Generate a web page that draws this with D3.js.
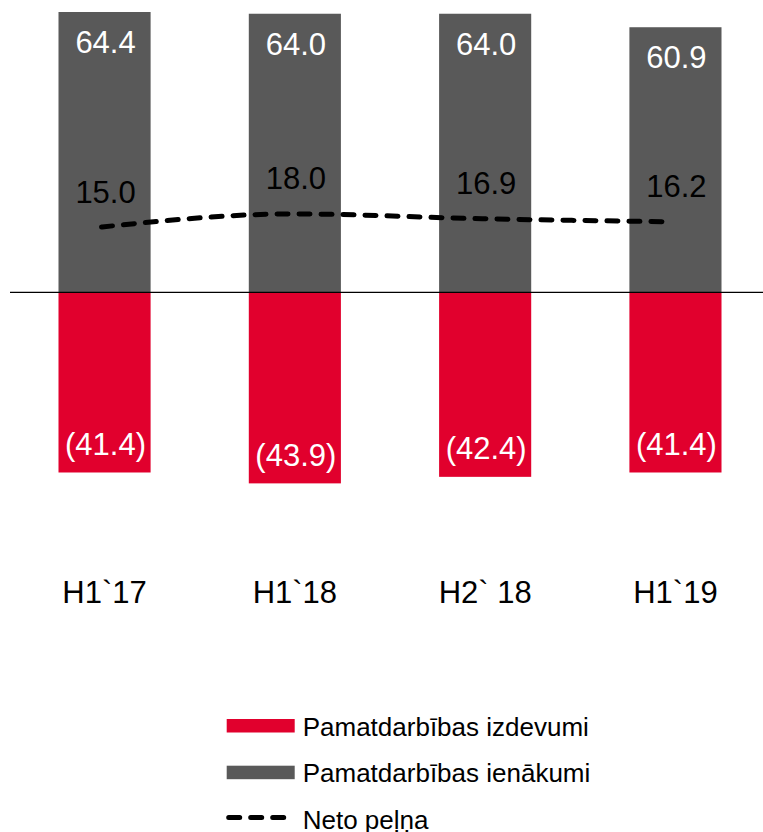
<!DOCTYPE html>
<html>
<head>
<meta charset="utf-8">
<script src="https://cdn.jsdelivr.net/npm/d3@7"></script>
<style>
  body { margin: 0; background: #fff; }
  text { font-family: "Liberation Sans", Arial, sans-serif; }
</style>
</head>
<body>
<div id="chart"></div>
<script>
// chart data
var periods = ["H1`17", "H1`18", "H2` 18", "H1`19"];
var income = [64.4, 64.0, 64.0, 60.9];
var expenses = [-41.4, -43.9, -42.4, -41.4];
var netProfit = [15.0, 18.0, 16.9, 16.2];
var seriesNames = ["Pamatdarbības izdevumi", "Pamatdarbības ienākumi", "Neto peļņa"];

var svgWidth = 763;
var svgHeight = 832;

var redColor = "#e1002d";
var grayColor = "#595959";

var svg = d3.select("#chart")
  .append("svg")
  .attr("width", svgWidth)
  .attr("height", svgHeight);

// scales
var xBandScale = d3.scaleBand()
  .domain(periods)
  .range([9.4, 770.6])
  .paddingInner(0.516)
  .paddingOuter(0.258);

var yLinearScale = d3.scaleLinear()
  .domain([0, 64.4])
  .range([292.3, 12]);

var rows = periods.map(function(p, i) {
  return { period: p, income: income[i], expenses: expenses[i], net: netProfit[i] };
});

function fmt(v) {
  return v < 0 ? "(" + d3.format(".1f")(-v) + ")" : d3.format(".1f")(v);
}

// income bars (gray)
svg.append("g").selectAll("rect")
  .data(rows)
  .enter()
  .append("rect")
  .attr("x", d => xBandScale(d.period))
  .attr("y", d => yLinearScale(d.income))
  .attr("width", xBandScale.bandwidth())
  .attr("height", d => yLinearScale(0) - yLinearScale(d.income))
  .attr("fill", grayColor);

// expense bars (red)
svg.append("g").selectAll("rect")
  .data(rows)
  .enter()
  .append("rect")
  .attr("x", d => xBandScale(d.period))
  .attr("y", yLinearScale(0))
  .attr("width", xBandScale.bandwidth())
  .attr("height", d => yLinearScale(d.expenses) - yLinearScale(0))
  .attr("fill", redColor);

// zero line
svg.append("line")
  .attr("x1", 10)
  .attr("x2", svgWidth)
  .attr("y1", yLinearScale(0))
  .attr("y2", yLinearScale(0))
  .attr("stroke", "#000")
  .attr("stroke-width", 1.2);

// net profit line
var lineGen = d3.line()
  .x(d => xBandScale(d.period) + xBandScale.bandwidth() / 2 - 3)
  .y(d => yLinearScale(d.net))
  .curve(d3.curveMonotoneX);

svg.append("path")
  .datum(rows)
  .attr("d", lineGen)
  .attr("fill", "none")
  .attr("stroke", "#000")
  .attr("stroke-width", 5)
  .attr("stroke-linecap", "round")
  .attr("stroke-dasharray", "11,11");

// value labels
var labels = svg.append("g")
  .style("font-size", "31px")
  .attr("text-anchor", "middle");

labels.selectAll(".inc")
  .data(rows)
  .enter()
  .append("text")
  .attr("class", "inc")
  .attr("x", d => xBandScale(d.period) + xBandScale.bandwidth() / 2 + 1)
  .attr("y", d => yLinearScale(d.income) + 41)
  .attr("fill", "#fff")
  .text(d => fmt(d.income));

labels.selectAll(".net")
  .data(rows)
  .enter()
  .append("text")
  .attr("class", "net")
  .attr("x", d => xBandScale(d.period) + xBandScale.bandwidth() / 2 + 1)
  .attr("y", d => yLinearScale(d.net) - 24.5)
  .attr("fill", "#000")
  .text(d => fmt(d.net));

labels.selectAll(".exp")
  .data(rows)
  .enter()
  .append("text")
  .attr("class", "exp")
  .attr("x", d => xBandScale(d.period) + xBandScale.bandwidth() / 2 + 1)
  .attr("y", d => yLinearScale(d.expenses) - 17.5)
  .attr("fill", "#fff")
  .text(d => fmt(d.expenses));

// category labels
var bottomAxis = d3.axisBottom(xBandScale).tickSize(0).tickPadding(0);
var axisG = svg.append("g")
  .attr("transform", "translate(0, 580)")
  .call(bottomAxis);
axisG.select(".domain").remove();
axisG.selectAll("text")
  .attr("dy", null)
  .attr("y", 22.7)
  .style("font-size", "31px")
  .style("font-family", "'Liberation Sans', Arial, sans-serif")
  .attr("fill", "#000");

// legend
var legend = svg.append("g")
  .attr("transform", "translate(226.7, 719)");

legend.append("rect")
  .attr("x", 0).attr("y", 0)
  .attr("width", 68).attr("height", 13.5)
  .attr("fill", redColor);

legend.append("rect")
  .attr("x", 0).attr("y", 46.7)
  .attr("width", 68).attr("height", 13.5)
  .attr("fill", grayColor);

legend.append("line")
  .attr("x1", 2).attr("x2", 62)
  .attr("y1", 98.5).attr("y2", 98.5)
  .attr("stroke", "#000")
  .attr("stroke-width", 5)
  .attr("stroke-linecap", "round")
  .attr("stroke-dasharray", "11,11");

legend.selectAll("text")
  .data(seriesNames)
  .enter()
  .append("text")
  .attr("x", 76)
  .attr("y", (d, i) => 16.5 + i * 46.5)
  .style("font-size", "26px")
  .attr("fill", "#000")
  .text(d => d);
</script>
</body>
</html>
